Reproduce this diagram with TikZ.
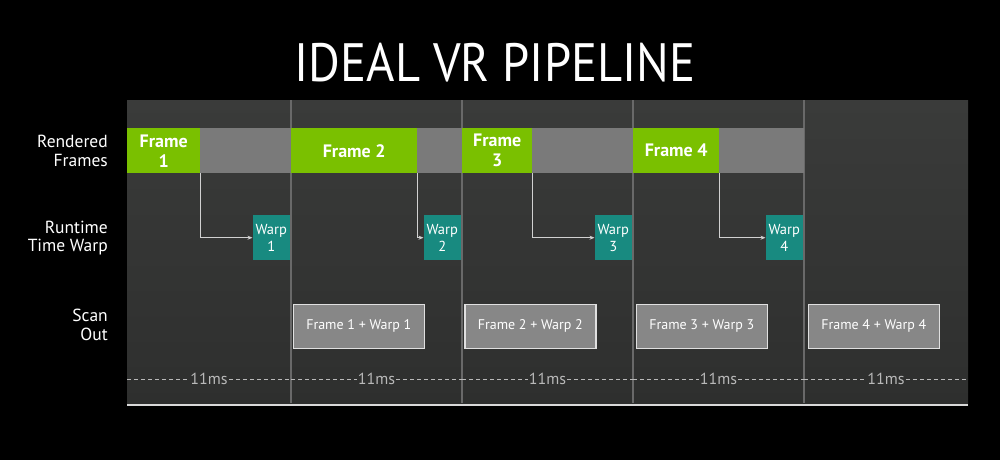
\documentclass[tikz,border=0pt]{standalone}
\usepackage{fontspec}
\setmainfont{PT Sans}
\usetikzlibrary{arrows.meta}
\definecolor{nvgreen}{RGB}{122,192,0}
\definecolor{panelTop}{RGB}{58,59,58}
\definecolor{panelBot}{RGB}{46,47,46}
\definecolor{barGray}{RGB}{122,122,122}
\definecolor{teal}{RGB}{24,138,128}
\definecolor{sepGray}{RGB}{105,105,105}
\definecolor{scanGray}{RGB}{135,135,135}
\definecolor{labGray}{RGB}{185,185,185}
\tikzset{
  greenbox/.style={fill=nvgreen, draw=none, inner sep=0pt, anchor=north west, minimum height=45pt, text=white, align=center, font=\fontsize{18}{20}\selectfont\bfseries},
  warpbox/.style={fill=teal, draw=none, inner sep=0pt, anchor=north west, minimum width=37pt, minimum height=45pt, text=white, align=center, font=\fontsize{14.5}{17}\selectfont},
  scanbox/.style={fill=scanGray, draw=white!88!black, line width=1.6pt, inner sep=0pt, anchor=north west, minimum width=131pt, minimum height=44pt, text=white, font=\fontsize{14}{16}\selectfont},
  rowlabel/.style={anchor=east, align=right, text=white, inner sep=0pt, font=\fontsize{17.5}{18.5}\selectfont},
  arr/.style={draw=white!82!black, line width=0.9pt, -{Stealth[length=5pt,width=4pt]}},
  sepline/.style={draw=sepGray, line width=1.4pt},
  tick/.style={draw=labGray, line width=0.8pt, dash pattern=on 4pt off 3pt},
  mslabel/.style={text=labGray, inner sep=1pt, font=\fontsize{16}{18}\selectfont}
}
\begin{document}
\begin{tikzpicture}[x=1pt,y=-1pt]
\fill[black] (0,0) rectangle (1000,460);
\useasboundingbox (0,0) rectangle (1000,460);
% panel
\shade[top color=panelTop, bottom color=panelBot] (127,100) rectangle (968,405);
% title
\node[text=white, font=\fontsize{54}{54}\selectfont, xscale=0.9] (title) at (495,63) {IDEAL VR PIPELINE};
% row labels
\node[rowlabel] (lr) at (108,151) {Rendered\\Frames};
\node[rowlabel] (lw) at (108,238) {Runtime\\Time Warp};
\node[rowlabel] (ls) at (108,325) {Scan\\Out};
% separators
\foreach \x/\n in {291/a,462/b,633/c,804/d}{
  \coordinate (s\n t) at (\x,100);
  \coordinate (s\n b) at (\x,403);
  \draw[sepline] (s\n t) -- (s\n b);
}
% gray bar
\node[fill=barGray, inner sep=0pt, anchor=north west, minimum width=677pt, minimum height=45pt] (bar) at (127,128) {};
% green frames
\node[greenbox, minimum width=73pt] (f1) at (127,128) {Frame\\1};
\node[greenbox, minimum width=126pt] (f2) at (291,128) {Frame 2};
\node[greenbox, minimum width=70pt] (f3) at (462,128) {Frame\\3};
\node[greenbox, minimum width=86pt] (f4) at (633,128) {Frame 4};
% warps
\node[warpbox] (w1) at (252.5,215) {Warp\\1};
\node[warpbox] (w2) at (423.5,215) {Warp\\2};
\node[warpbox] (w3) at (594.5,215) {Warp\\3};
\node[warpbox] (w4) at (765.5,215) {Warp\\4};
\draw[arr] (f1.south east) |- (w1.west);
\draw[arr] (f2.south east) |- (w2.west);
\draw[arr] (f3.south east) |- (w3.west);
\draw[arr] (f4.south east) |- (w4.west);
% scan out
\node[scanbox] (o1) at (292.5,303.5) {Frame 1 + Warp 1};
\node[scanbox] (o2) at (464,303.5) {Frame 2 + Warp 2};
\node[scanbox] (o3) at (635.5,303.5) {Frame 3 + Warp 3};
\node[scanbox] (o4) at (807.5,303.5) {Frame 4 + Warp 4};
% 11ms timeline
\foreach \l/\r/\n in {127/291/1,291/462/2,462/633/3,633/804/4,804/968/5}{
  \coordinate (tl\n) at (\l,379);
  \coordinate (tr\n) at (\r,379);
  \node[mslabel] (ms\n) at ({(\l+\r)/2},379) {11ms};
  \draw[tick] (tl\n) -- (ms\n.west);
  \draw[tick] (ms\n.east) -- (tr\n);
}
% bottom line
\coordinate (bl) at (127,405);
\coordinate (br) at (968,405);
\draw[draw=white!85!black, line width=2pt] (bl) -- (br);
\end{tikzpicture}
\end{document}
